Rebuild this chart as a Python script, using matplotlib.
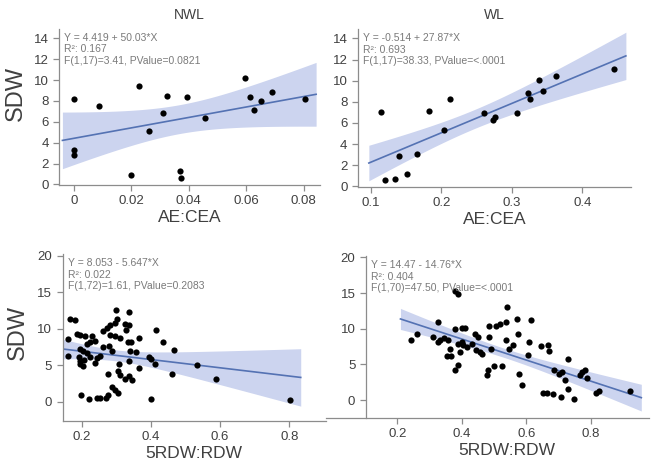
import numpy as np
import matplotlib
matplotlib.use("Agg")
import matplotlib.pyplot as plt

plt.rcParams['font.family'] = ['Liberation Sans', 'DejaVu Sans']

# top row: SDW vs AE:CEA
nwl_x = [0.0, 0.0, 0.0, 0.0087, 0.020, 0.0225, 0.0263, 0.031, 0.0323, 0.037,
         0.0372, 0.0394, 0.0456, 0.0596, 0.0614, 0.0627, 0.065, 0.0688, 0.0803]
nwl_y = [8.18, 3.28, 2.8, 7.54, 0.89, 9.39, 5.12, 6.81, 8.46, 1.30,
         0.57, 8.40, 6.33, 10.24, 8.34, 7.13, 8.02, 8.84, 8.18]

wl_x = [0.114, 0.120, 0.135, 0.140, 0.151, 0.166, 0.182, 0.204, 0.212, 0.261,
        0.274, 0.276, 0.307, 0.323, 0.326, 0.338, 0.344, 0.363, 0.445]
wl_y = [7.02, 0.57, 0.73, 2.88, 1.20, 3.03, 7.14, 5.34, 8.31, 6.98,
        6.29, 6.57, 6.92, 8.88, 8.22, 10.08, 9.07, 10.46, 11.09]

# bottom row: SDW vs 5RDW:RDW
rdw_nwl_x = [0.299, 0.338, 0.166, 0.182, 0.302, 0.295, 0.282, 0.273, 0.326, 0.338,
             0.327, 0.415, 0.187, 0.195, 0.21, 0.229, 0.282, 0.295, 0.31, 0.365,
             0.161, 0.434, 0.224, 0.239, 0.333, 0.342, 0.28, 0.195, 0.466, 0.205,
             0.287, 0.34, 0.358, 0.216, 0.161, 0.193, 0.224, 0.253, 0.394, 0.399,
             0.195, 0.207, 0.244, 0.338, 0.411, 0.195, 0.205, 0.239, 0.308, 0.534,
             0.365, 0.304, 0.277, 0.461, 0.311, 0.338, 0.326, 0.345, 0.589, 0.287,
             0.297, 0.304, 0.197, 0.222, 0.245, 0.253, 0.271, 0.275, 0.401, 0.801,
             0.261, 0.216, 0.263]
rdw_nwl_y = [12.55, 12.28, 11.29, 11.15, 11.29, 10.84, 10.47, 10.16, 10.61, 10.47,
             9.89, 9.80, 9.26, 9.12, 9.03, 8.94, 9.16, 8.94, 8.8, 8.8,
             8.58, 8.22, 8.13, 8.35, 8.13, 8.22, 7.67, 7.22, 7.13, 7.0,
             7.0, 7.0, 6.77, 6.68, 6.23, 6.19, 6.19, 6.32, 6.19, 5.87,
             5.64, 5.73, 6.0, 5.55, 5.19, 5.19, 4.97, 5.33, 5.19, 5.10,
             4.65, 4.29, 3.84, 3.75, 3.7, 3.52, 3.16, 3.02, 3.07, 2.03,
             1.67, 1.26, 0.9, 0.45, 0.54, 0.54, 0.59, 0.9, 0.36, 0.32,
             7.45, 7.9, 9.7]

rdw_wl_x = [0.244, 0.262, 0.31, 0.325, 0.328, 0.333, 0.344, 0.357, 0.354, 0.364,
            0.367, 0.379, 0.379, 0.39, 0.379, 0.387, 0.395, 0.4, 0.41, 0.402,
            0.405, 0.441, 0.451, 0.443, 0.456, 0.462, 0.477, 0.482, 0.484, 0.484,
            0.49, 0.5, 0.505, 0.518, 0.525, 0.536, 0.538, 0.541, 0.547, 0.559,
            0.572, 0.574, 0.579, 0.587, 0.605, 0.61, 0.615, 0.646, 0.651, 0.664,
            0.669, 0.671, 0.682, 0.687, 0.703, 0.708, 0.71, 0.721, 0.73, 0.731,
            0.749, 0.766, 0.774, 0.781, 0.79, 0.818, 0.825, 0.923, 0.431, 0.415,
            0.388]
rdw_wl_y = [8.37, 9.21, 8.84, 10.93, 8.14, 8.47, 8.74, 8.37, 6.14, 7.21,
            6.14, 10.0, 15.35, 14.88, 4.19, 4.98, 6.74, 10.14, 10.14, 8.14,
            7.67, 9.3, 8.84, 7.07, 6.74, 6.42, 3.49, 4.28, 10.33, 8.84,
            7.21, 4.74, 10.33, 10.7, 4.74, 10.93, 8.47, 13.02, 7.21, 7.67,
            11.4, 9.21, 3.72, 2.09, 6.37, 8.14, 11.16, 7.53, 0.93, 0.93,
            7.67, 6.88, 0.79, 4.19, 3.72, 0.37, 3.95, 2.79, 5.72, 1.49,
            0.14, 3.49, 3.95, 4.19, 3.16, 0.93, 1.21, 1.21, 7.91, 7.44,
            7.91]

# reported regression results
intercepts = [4.419, -0.514, 8.053, 14.47]
slopes = [50.03, 27.87, -5.647, -14.76]
t_crit = [2.110, 2.110, 1.993, 1.994]
stats_text = [
    "Y = 4.419 + 50.03*X\nR²: 0.167\nF(1,17)=3.41, PValue=0.0821",
    "Y = -0.514 + 27.87*X\nR²: 0.693\nF(1,17)=38.33, PValue=<.0001",
    "Y = 8.053 - 5.647*X\nR²: 0.022\nF(1,72)=1.61, PValue=0.2083",
    "Y = 14.47 - 14.76*X\nR²: 0.404\nF(1,70)=47.50, PValue=<.0001",
]
titles = ["NWL", "WL", "", ""]
xlabels = ["AE:CEA", "AE:CEA", "5RDW:RDW", "5RDW:RDW"]

LINE = "#5472b3"
BAND = "#ccd4ef"
SPINE = "#8c8c8c"
TXT = "#404040"

fig = plt.figure(figsize=(6.52, 4.67), dpi=100)
positions = [
    [0.0905, 0.604, 0.400, 0.334],
    [0.549, 0.600, 0.419, 0.338],
    [0.096, 0.099, 0.404, 0.357],
    [0.561, 0.105, 0.434, 0.347],
]
xlims = [(-0.0052, 0.0856), (0.082, 0.469), (0.145, 0.906), (0.1025, 0.98)]
ylims = [(-0.05, 14.9), (-0.05, 14.9), (-2.57, 20.2), (-2.5, 20.2)]
xticks = [[0, 0.02, 0.04, 0.06, 0.08], [0.1, 0.2, 0.3, 0.4],
          [0.2, 0.4, 0.6, 0.8], [0.2, 0.4, 0.6, 0.8]]
yticks = [range(0, 15, 2), range(0, 15, 2), range(0, 21, 5), range(0, 21, 5)]
xfmt = [lambda v: "0" if v == 0 else f"{v:.2f}", lambda v: f"{v:.1f}",
        lambda v: f"{v:.1f}", lambda v: f"{v:.1f}"]
ylabel_pos = {0: (-0.122, 0.583), 2: (-0.128, 0.53)}

datasets = [(nwl_x, nwl_y), (wl_x, wl_y), (rdw_nwl_x, rdw_nwl_y), (rdw_wl_x, rdw_wl_y)]

for i, (xs, ys) in enumerate(datasets):
    ax = fig.add_axes(positions[i])
    x = np.array(xs)
    y = np.array(ys)
    a, b = intercepts[i], slopes[i]

    # confidence band for the mean around the reported fit
    n = len(x)
    resid = y - (a + b * x)
    s = np.sqrt(np.sum(resid ** 2) / (n - 2))
    sxx = np.sum((x - x.mean()) ** 2)
    pad = 0.05 * (x.max() - x.min())
    xg = np.linspace(x.min() - pad, x.max() + pad, 200)
    yhat = a + b * xg
    half = t_crit[i] * s * np.sqrt(1.0 / n + (xg - x.mean()) ** 2 / sxx)

    ax.fill_between(xg, yhat - half, yhat + half, color=BAND, lw=0, zorder=1)
    ax.plot(xg, yhat, color=LINE, lw=1.2, zorder=2)
    ax.scatter(x, y, s=20, color="black", zorder=3, linewidths=0)

    ax.set_xlim(*xlims[i])
    ax.set_ylim(*ylims[i])
    ax.set_xticks(xticks[i])
    ax.set_xticklabels([xfmt[i](v) for v in xticks[i]])
    ax.set_yticks(list(yticks[i]))

    for side in ["top", "right"]:
        ax.spines[side].set_visible(False)
    for side in ["left", "bottom"]:
        ax.spines[side].set_color(SPINE)
        ax.spines[side].set_linewidth(0.9)
    if i == 3:
        # x axis line runs a bit past the y axis in the original
        ax.spines["bottom"].set_bounds(-0.02, xlims[i][1])
    ax.tick_params(colors=SPINE, labelcolor=TXT, labelsize=9.5, length=4, width=0.9)

    ax.set_xlabel(xlabels[i], fontsize=12.5, color=TXT, labelpad=2)
    if titles[i]:
        ax.set_title(titles[i], fontsize=10, color=TXT, pad=7)
    if i in ylabel_pos:
        ax.set_ylabel("SDW", fontsize=17, color=TXT)
        ax.yaxis.set_label_coords(*ylabel_pos[i])

    ax.text(0.02, 0.975, stats_text[i], transform=ax.transAxes, fontsize=7.5,
            color="#7a7a7a", va="top", ha="left", linespacing=1.2, zorder=4)

fig.savefig("out.png", dpi=100)
